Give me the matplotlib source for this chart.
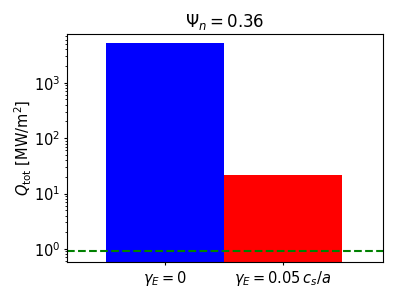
import numpy as np
from matplotlib import pyplot as plt

labels = [r"$\gamma_E = 0$", r"$\gamma_E = 0.05\,c_s/a$"]
q_tot = [5250.0, 21.3]
colors = ["blue", "red"]
q_ref = 0.92
psi_n = 0.36

fig = plt.figure(figsize=(3.99, 2.99), dpi=100)
ax = fig.add_axes([67 / 399, 1 - 262 / 299, 316 / 399, 228 / 299])
x = np.arange(len(q_tot))
ax.bar(x, q_tot, width=1.0, color=colors, log=True)
ax.axhline(q_ref, color="green", ls="--", lw=1.5)
ax.set_yscale("log")
ax.set_ylim(0.58, 7600)
ax.set_xlim(-0.83, 1.85)
ax.set_xticks(x)
ax.set_xticklabels(labels, fontsize=10.5)
ax.tick_params(axis="both", which="major", length=2.5, pad=2.5, labelsize=10.5)
ax.tick_params(axis="y", which="minor", length=1.5)
ax.set_ylabel(r"$Q_{\rm tot}$ [MW/m$^2$]", fontsize=10.5)
ax.yaxis.set_label_coords(-0.105, 0.5)
ax.set_title(r"$\Psi_n = %.2f$" % psi_n, fontsize=12, pad=5)
fig.savefig("out.png", dpi=100)
